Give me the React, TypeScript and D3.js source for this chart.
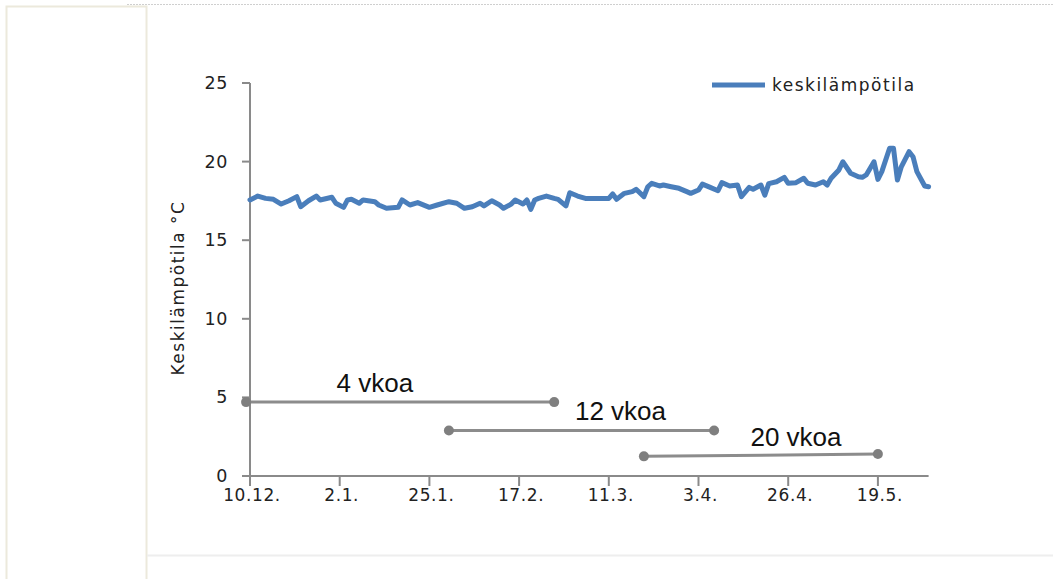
import * as d3 from "d3";

// daily mean temperature readings (°C)
const dates = [
  "2011-12-10", "2011-12-12", "2011-12-14", "2011-12-16", "2011-12-18", "2011-12-20", "2011-12-22", "2011-12-23",
  "2011-12-25", "2011-12-27", "2011-12-28", "2011-12-31", "2012-01-01", "2012-01-03", "2012-01-04", "2012-01-05",
  "2012-01-07", "2012-01-08", "2012-01-11", "2012-01-12", "2012-01-14", "2012-01-17", "2012-01-18", "2012-01-20",
  "2012-01-22", "2012-01-25", "2012-01-27", "2012-01-30", "2012-02-01", "2012-02-03", "2012-02-05", "2012-02-07",
  "2012-02-08", "2012-02-10", "2012-02-12", "2012-02-13", "2012-02-15", "2012-02-16", "2012-02-18", "2012-02-19",
  "2012-02-20", "2012-02-21", "2012-02-22", "2012-02-24", "2012-02-26", "2012-02-27", "2012-02-29", "2012-03-01",
  "2012-03-03", "2012-03-05", "2012-03-09", "2012-03-11", "2012-03-12", "2012-03-13", "2012-03-15", "2012-03-17",
  "2012-03-18", "2012-03-20", "2012-03-21", "2012-03-22", "2012-03-24", "2012-03-25", "2012-03-27", "2012-03-29",
  "2012-03-31", "2012-04-01", "2012-04-03", "2012-04-04", "2012-04-06", "2012-04-08", "2012-04-09", "2012-04-11",
  "2012-04-13", "2012-04-14", "2012-04-16", "2012-04-17", "2012-04-19", "2012-04-20", "2012-04-21", "2012-04-23",
  "2012-04-25", "2012-04-26", "2012-04-28", "2012-04-30", "2012-05-01", "2012-05-03", "2012-05-05", "2012-05-06",
  "2012-05-07", "2012-05-09", "2012-05-10", "2012-05-12", "2012-05-14", "2012-05-15", "2012-05-16", "2012-05-18",
  "2012-05-19", "2012-05-20", "2012-05-22", "2012-05-23", "2012-05-24", "2012-05-25", "2012-05-27", "2012-05-28",
  "2012-05-29", "2012-05-31", "2012-06-01",
];
const temps = [
  17.56, 17.81, 17.66, 17.6, 17.3, 17.51, 17.77, 17.13,
  17.51, 17.81, 17.56, 17.73, 17.35, 17.09, 17.56, 17.6,
  17.35, 17.56, 17.45, 17.24, 17.03, 17.09, 17.56, 17.24,
  17.39, 17.09, 17.24, 17.45, 17.35, 17.03, 17.13, 17.35,
  17.18, 17.51, 17.24, 17.03, 17.3, 17.56, 17.3, 17.56,
  16.96, 17.56, 17.66, 17.81, 17.66, 17.6, 17.18, 18.02,
  17.81, 17.66, 17.66, 17.66, 17.94, 17.6, 17.98, 18.09,
  18.24, 17.77, 18.4, 18.62, 18.45, 18.51, 18.4, 18.3,
  18.09, 17.98, 18.19, 18.57, 18.36, 18.15, 18.66, 18.45,
  18.51, 17.77, 18.36, 18.24, 18.51, 17.87, 18.6, 18.72,
  19.0, 18.62, 18.66, 18.94, 18.62, 18.51, 18.72, 18.51,
  18.94, 19.47, 19.99, 19.26, 19.04, 19.0, 19.15, 19.99,
  18.87, 19.36, 20.85, 20.85, 18.83, 19.67, 20.63, 20.31,
  19.36, 18.45, 18.4,
];

// age ranges (start, end, level)
const rangeLabels = ["4 vkoa", "12 vkoa", "20 vkoa"];
const rangeStart = ["2011-12-09", "2012-01-30", "2012-03-20"];
const rangeEnd = ["2012-02-26", "2012-04-07", "2012-05-19"];
const rangeStartVal = [4.7, 2.9, 1.25];
const rangeEndVal = [4.7, 2.9, 1.4];
const rangeLabelAt = ["2012-01-11", "2012-03-14", "2012-04-28"];

const tickDates = ["2011-12-10", "2012-01-02", "2012-01-25", "2012-02-17", "2012-03-11", "2012-04-03", "2012-04-26", "2012-05-19"];
const yTicks = [0, 5, 10, 15, 20, 25];

const parse = d3.timeParse("%Y-%m-%d");
const fmt = d3.timeFormat("%-d.%-m.");

const W = 1053;
const H = 579;
const left = 250;
const right = 928.6;
const top = 83;
const bottom = 476;

const axisCol = "#8a8a8a";
const tickFont = "'DejaVu Sans', sans-serif";

export default function App() {
  const x = d3.scaleTime().domain([parse("2011-12-10")!, parse("2012-06-01")!]).range([left, right]);
  const y = d3.scaleLinear().domain([0, 25]).range([bottom, top]);

  const series = dates.map((d, i) => ({ date: parse(d)!, v: temps[i] }));
  const line = d3.line<{ date: Date; v: number }>()
    .x(d => x(d.date))
    .y(d => y(d.v));

  return (
    <svg width={W} height={H} style={{ position: "absolute", left: 0, top: 0, background: "#fff" }}>
      {/* page frame */}
      <line x1={127} x2={W} y1={4.5} y2={4.5} stroke="#cfcfcf" strokeDasharray="2,1" />
      <rect x={6.5} y={6.5} width={140} height={H + 10} fill="#fff" stroke="#ece9dc" strokeWidth={2} />
      <line x1={147} x2={W} y1={555.5} y2={555.5} stroke="#eeeeee" strokeWidth={2} />

      {/* y axis */}
      <line x1={left} x2={left} y1={top} y2={bottom} stroke={axisCol} strokeWidth={2} />
      {yTicks.map(t => (
        <g key={t}>
          <line x1={left - 8} x2={left} y1={y(t)} y2={y(t)} stroke={axisCol} strokeWidth={2} />
          <text x={left - 22} y={y(t)} dy="0.34em" textAnchor="end" fontFamily={tickFont} fontSize={17.5} fill="#222" letterSpacing={0.6}>
            {t}
          </text>
        </g>
      ))}

      {/* x axis */}
      <line x1={left - 8} x2={right} y1={bottom} y2={bottom} stroke={axisCol} strokeWidth={2} />
      {tickDates.map(t => {
        const xx = x(parse(t)!);
        return (
          <g key={t}>
            <line x1={xx} x2={xx} y1={bottom} y2={bottom + 10} stroke={axisCol} strokeWidth={2} />
            <text x={xx + 2} y={501} textAnchor="middle" fontFamily={tickFont} fontSize={17} fill="#222" letterSpacing={0.6}>
              {fmt(parse(t)!)}
            </text>
          </g>
        );
      })}

      {/* y title */}
      <text
        transform={`translate(184,288) rotate(-90)`}
        textAnchor="middle"
        fontFamily={tickFont}
        fontSize={17}
        fill="#222"
        letterSpacing={1.5}
      >
        Keskilämpötila °C
      </text>

      {/* series */}
      <path d={line(series) ?? ""} fill="none" stroke="#4a7ebb" strokeWidth={5} strokeLinejoin="round" strokeLinecap="round" />

      {/* age ranges */}
      {rangeLabels.map((lab, i) => {
        const x1 = x(parse(rangeStart[i])!);
        const x2 = x(parse(rangeEnd[i])!);
        const y1 = y(rangeStartVal[i]);
        const y2 = y(rangeEndVal[i]);
        return (
          <g key={lab}>
            <line x1={x1} x2={x2} y1={y1} y2={y2} stroke="#8c8c8c" strokeWidth={3} />
            <circle cx={x1} cy={y1} r={5} fill="#7f7f7f" />
            <circle cx={x2} cy={y2} r={5} fill="#7f7f7f" />
            <text x={x(parse(rangeLabelAt[i])!)} y={y1 - 10} textAnchor="middle" fontFamily="'Liberation Sans', Arial, sans-serif" fontSize={26} fill="#111">
              {lab}
            </text>
          </g>
        );
      })}

      {/* legend */}
      <line x1={712} x2={765} y1={85} y2={85} stroke="#4a7ebb" strokeWidth={5} />
      <text x={772} y={85} dy="0.36em" fontFamily={tickFont} fontSize={17} fill="#222" letterSpacing={1.5}>
        keskilämpötila
      </text>
    </svg>
  );
}
